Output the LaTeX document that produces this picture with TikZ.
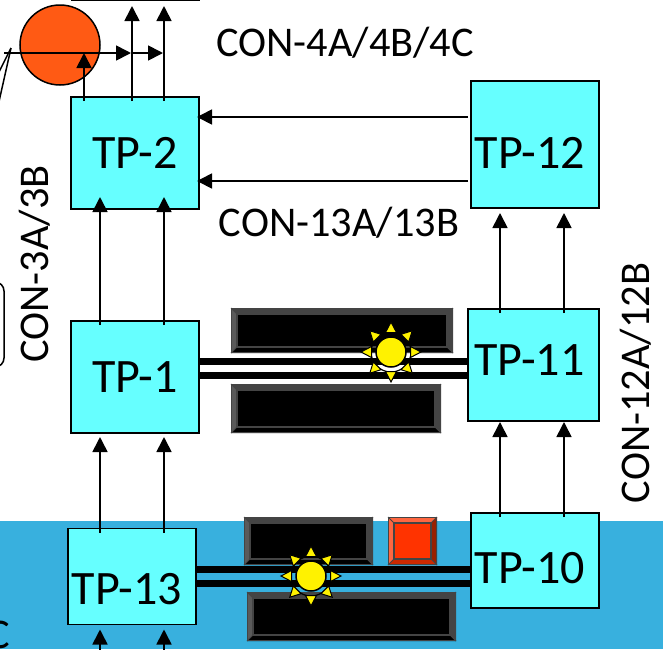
\documentclass[tikz,border=0pt]{standalone}
\usepackage{fontspec}
\setmainfont{Carlito}
\usetikzlibrary{arrows.meta}
\definecolor{tpfill}{HTML}{66FFFF}
\definecolor{water}{HTML}{38B0DE}
\definecolor{ball}{HTML}{FF5A14}
\definecolor{rface}{HTML}{FF3300}
\definecolor{rlight}{HTML}{FF6640}
\definecolor{rdark}{HTML}{992000}
\definecolor{rmid}{HTML}{CC2900}
\definecolor{bevel}{HTML}{444444}
\definecolor{bevell}{HTML}{5A5A5A}
\tikzset{
  tp/.style={draw=black,fill=tpfill,line width=1.8pt,outer sep=0pt,inner sep=0pt,font=\fontsize{48}{48}\selectfont},
  arr/.style={line width=1.7pt,-{Triangle[width=15pt,length=15pt]}},
  bar/.style={line width=7pt,black},
  con/.style={font=\fontsize{42.3}{42.3}\selectfont,inner sep=0pt,text=black},
  ray/.style={fill=yellow,draw=black,line width=1pt,miter limit=12,line join=miter},
}
\newcommand{\tptext}[3]{\kern#1pt\raisebox{\dimexpr#2pt-15.5pt\relax}[0pt][0pt]{#3}\kern-#1pt}
\newcommand{\bevelbox}[9]{%
  \fill[#5] (#1,#2) rectangle (#3,#4);
  \fill[#6] (#1,#2) -- (#3,#2) -- (#3-6,#2+6) -- (#1+6,#2+6) -- cycle;
  \fill[#9] (#1,#2) -- (#1+6,#2+6) -- (#1+6,#4-6) -- (#1,#4) -- cycle;
  \fill[#7] (#3,#2) -- (#3-6,#2+6) -- (#3-6,#4-6) -- (#3,#4) -- cycle;
  \fill[#8] (#1,#4) -- (#1+6,#4-6) -- (#3-6,#4-6) -- (#3,#4) -- cycle;
  \draw[bevel,line width=1.5pt,line join=round] (#1+.7,#2+.7) rectangle (#3-.7,#4-.7);
  \draw[bevel,line width=1.5pt] (#1+6,#2+6) rectangle (#3-6,#4-6);
  \draw[bevel,line width=1pt] (#1,#2) -- (#1+6,#2+6) (#3,#2) -- (#3-6,#2+6) (#1,#4) -- (#1+6,#4-6) (#3,#4) -- (#3-6,#4-6);
}
\newcommand{\sunshape}[2]{%
  \begin{scope}[shift={(#1,#2)}]
    \draw[black,line width=1.2pt] (0,0) circle (20pt);
    \foreach \a in {0,45,...,315}{
      \draw[ray,rotate=\a] (19.5,-5.5) -- (30,0) -- (19.5,5.5) -- cycle;
    }
    \draw[fill=yellow,draw=black,line width=1.5pt] (0,0) circle (15pt);
  \end{scope}
}
\begin{document}
\begin{tikzpicture}[x=1pt,y=-1pt]
\useasboundingbox (0,0) rectangle (663,649);
\clip (0,0) rectangle (663,649);
\fill[white] (0,0) rectangle (663,649);
\fill[water] (0,521) rectangle (663,649);

% circle and top rule
\draw[fill=ball,draw=black,line width=1.5pt] (60,45) circle (40pt);
\draw[line width=1.6pt] (71,0.5) -- (200,0.5);

% nodes
\node[tp,minimum width=128pt,minimum height=112pt] (TP2) at (135,153) {TP-2};
\node[tp,minimum width=128pt,minimum height=127pt] (TP12) at (535,144.5) {\tptext{-5}{-8}{TP-12}};
\node[tp,minimum width=128pt,minimum height=112pt] (TP1) at (135,377) {TP-1};
\node[tp,minimum width=131pt,minimum height=112pt] (TP11) at (533.5,365) {\tptext{-4}{5}{TP-11}};
\node[tp,minimum width=128pt,minimum height=96pt] (TP13) at (132,576.5) {\tptext{-5}{-12}{TP-13}};
\node[tp,minimum width=128pt,minimum height=95pt] (TP10) at (535,560.5) {\tptext{-5}{-7.5}{TP-10}};

% bars
\draw[bar] ([yshift=15.5pt]TP1.east) coordinate (a1) -- (a1 -| TP11.west);
\draw[bar] ([yshift=1.5pt]TP1.east) coordinate (a2) -- (a2 -| TP11.west);
\draw[bar] ([yshift=7pt]TP13.east) coordinate (b1) -- (b1 -| TP10.west);
\draw[bar] ([yshift=-7pt]TP13.east) coordinate (b2) -- (b2 -| TP10.west);

% bevel boxes
\bevelbox{231}{308}{453}{353}{black}{bevel}{bevel}{black}{bevell}
\bevelbox{231}{384}{441}{433}{black}{bevel}{bevel}{black}{bevell}
\bevelbox{244}{517}{373}{565}{black}{bevel}{bevel}{black}{bevell}
\bevelbox{247}{592}{456}{641}{black}{bevel}{bevel}{black}{bevell}
\bevelbox{388}{517}{437}{565}{rface}{rlight}{rdark}{rmid}{rlight}

% suns
\sunshape{391}{352}
\sunshape{311}{576}

% vertical connectors
\draw[arr] ([xshift=29pt,yshift=-4pt]TP1.north west) -- ([xshift=29pt,yshift=12pt]TP2.south west);
\draw[arr] ([xshift=93pt,yshift=-4pt]TP1.north west) -- ([xshift=93pt,yshift=12pt]TP2.south west);
\draw[arr] ([xshift=32pt,yshift=-4pt]TP13.north west) -- ([xshift=29pt,yshift=-4pt]TP1.south west);
\draw[arr] ([xshift=96pt,yshift=-4pt]TP13.north west) -- ([xshift=93pt,yshift=-4pt]TP1.south west);
\draw[arr] ([xshift=29pt,yshift=-4pt]TP10.north west) -- ([xshift=32pt,yshift=-1pt]TP11.south west);
\draw[arr] ([xshift=93pt,yshift=-4pt]TP10.north west) -- ([xshift=96pt,yshift=-1pt]TP11.south west);
\draw[arr] ([xshift=32pt,yshift=-4pt]TP11.north west) -- ([xshift=29pt,yshift=-5pt]TP12.south west);
\draw[arr] ([xshift=96pt,yshift=-4pt]TP11.north west) -- ([xshift=93pt,yshift=-5pt]TP12.south west);

% horizontal connectors
\coordinate (c1) at ([xshift=-3pt,yshift=27.5pt]TP12.west);
\coordinate (c2) at ([xshift=-3pt,yshift=-36.5pt]TP12.west);
\draw[arr] (c1) -- ([xshift=-2pt]c1 -| TP2.east);
\draw[arr] (c2) -- ([xshift=-2pt]c2 -| TP2.east);

% top connectors
\coordinate (t1) at (132,6);
\coordinate (t2) at (164,6);
\coordinate (h0) at (4,53);
\coordinate (h1) at (131,53);
\coordinate (h2) at (163,53);
\draw[arr] ([xshift=13pt,yshift=-4pt]TP2.north west) -- ([xshift=13pt]TP2.north west |- h0);
\draw[arr] ([xshift=61pt,yshift=-4pt]TP2.north west) -- (t1);
\draw[arr] ([xshift=93pt,yshift=-4pt]TP2.north west) -- (t2);
\draw[arr] (h0) -- (h1);
\draw[arr] (h1) -- (h2);

% bottom connectors
\coordinate (u1) at (100,652);
\coordinate (u2) at (164,652);
\draw[arr] (u1) -- ([yshift=-5pt]TP13.south west -| u1);
\draw[arr] (u2) -- ([yshift=-5pt]TP13.south west -| u2);

% left fragments
\coordinate (k) at (11,48);
\coordinate (k1) at (-2,74);
\coordinate (k2) at (-2,106);
\draw[line width=1.5pt] (k) -- (k1);
\draw[line width=1.5pt] (k) -- (k2);
\draw[line width=1.5pt,rounded corners=9pt] (-30,282) -- (4,282) -- (4,367) -- (-30,367);

% labels
\node[con] (L1) at (345,43) {CON-4A/4B/4C};
\node[con] (L2) at (339,223) {CON-13A/13B};
\node[con,rotate=90] (L3) at (35,264) {CON-3A/3B};
\node[con,rotate=90] (L4) at (636,383) {CON-12A/12B};
\node[con,anchor=base east] (L5) at (10,648) {C};
\end{tikzpicture}
\end{document}
